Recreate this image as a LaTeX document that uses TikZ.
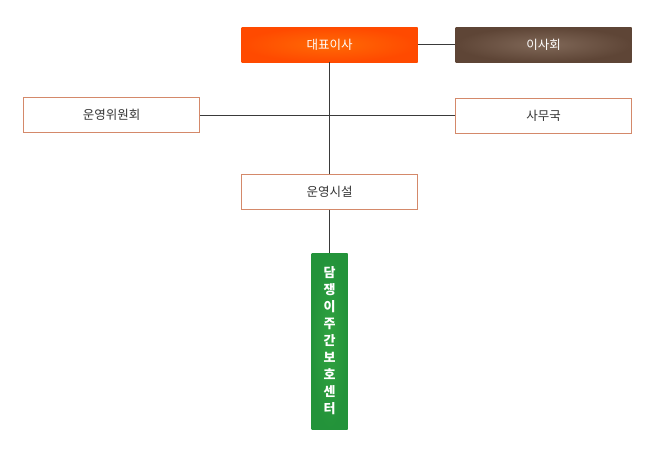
\documentclass[tikz,border=0pt]{standalone}
\usepackage{fontspec}
\newfontfamily\kr{Noto Sans CJK KR}
\definecolor{ceoin}{HTML}{FF6A05}
\definecolor{ceoout}{HTML}{FF4A00}
\definecolor{boardin}{HTML}{806858}
\definecolor{boardout}{HTML}{5E4536}
\definecolor{centerin}{HTML}{30A240}
\definecolor{centerout}{HTML}{23933A}
\definecolor{boxline}{HTML}{D4896A}
\definecolor{txtgray}{HTML}{333333}
\definecolor{linegray}{HTML}{3A3A3A}

\begin{document}
\begin{tikzpicture}[x=1pt,y=-1pt,
    unit/.style={rectangle,minimum width=176pt,minimum height=35pt,inner sep=0pt,font=\kr\fontsize{12.5}{14}\selectfont},
    whitebox/.style={unit,draw=boxline,line width=1pt,fill=white,text=txtgray},
    filledbox/.style={unit,text=white}]
      % canvas
      \useasboundingbox (0,0) rectangle (664,459);
      % boxes
      \node[filledbox,inner color=ceoin,outer color=ceoout] (ceo) at (329.5,44.5) {대표이사};
      \node[filledbox,inner color=boardin,outer color=boardout] (board) at (543.5,44.5) {이사회};
      \node[whitebox] (committee) at (111.5,115) {운영위원회};
      \node[whitebox] (office) at (543.5,115.5) {사무국};
      \node[whitebox] (facility) at (329.5,191.5) {운영시설};
      \node[unit,minimum width=36pt,minimum height=176pt,inner color=centerin,outer color=centerout,
            text=white,align=center,font=\kr\bfseries\fontsize{13}{17}\selectfont] (center) at (329.5,341)
            {담\\쟁\\이\\주\\간\\보\\호\\센\\터};
      % connectors
      \coordinate (cross) at (ceo.south |- office.west);
      \draw[linegray,line width=1pt] (ceo.east) -- (board.west);
      \draw[linegray,line width=1pt] (ceo.south) -- (facility.north);
      \draw[linegray,line width=1pt] (facility.south) -- (center.north);
      \draw[linegray,line width=1pt] (committee.east |- cross) -- (cross) -- (office.west);
\end{tikzpicture}
\end{document}
